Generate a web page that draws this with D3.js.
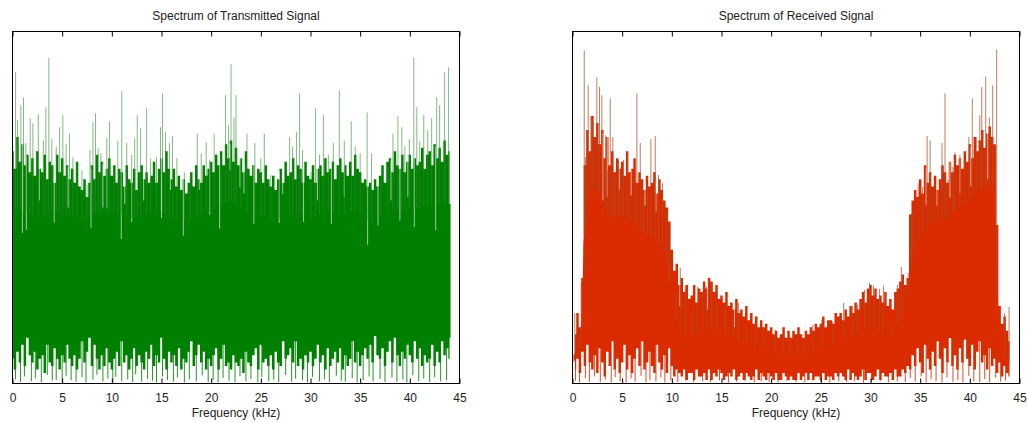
<!DOCTYPE html>
<html><head><meta charset="utf-8">
<script src="https://cdn.jsdelivr.net/npm/d3@7"></script>
<style>
body{margin:0;background:#fff}
text{font-family:"Liberation Sans",Arial,Helvetica,sans-serif;fill:#222}
</style>
</head><body>
<svg id="chart" width="1027" height="423"></svg>
<script>
// ---------- shared ----------
const xTicks = [0,5,10,15,20,25,30,35,40,45];
const xLabel = "Frequency (kHz)";
const titles = ["Spectrum of Transmitted Signal","Spectrum of Received Signal"];

// ---------- Transmitted signal (green) ----------
// solid core of the trace (every 1 kHz)
const txEnvF = [0,1,2,3,4,5,6,7,8,9,10,11,12,13,14,15,16,17,18,19,20,21,22,23,24,25,26,27,28,29,30,31,32,33,34,35,36,37,38,39,40,41,42,43,44,44.1];
const txTop  = [50,49,48,47,49,48,48,46,48,49,48,48,47,48,48,49,47,46,47,48,49,51,52,50,48,48,47,47,48,48,47,48,49,48,49,48,46,47,49,49,50,50,51,51,51,51];
const txBot  = [13,14,13,13,14,13,13,14,13,13,13,14,13,13,13,14,13,13,13,13,13,12,13,12,13,13,13,13,14,13,13,13,13,13,13,13,14,13,14,13,13,13,13,14,13,13];
// local maxima / minima every 0.25 kHz from 0 to 44 kHz
const txPeakStart = 0;
const txPeaks = [66,61,70,63, 68,62,65,60, 64,59,66,61, 60,65,58,63, 62,57,65,60, 64,59,62,58, 61,57,63,56, 55,58,53,57,
  62,58,65,60, 63,59,61,64, 59,62,57,61, 60,56,62,58, 57,61,55,60, 62,58,60,57, 59,63,57,61, 64,60,66,61,
  58,61,56,59, 55,58,54,57, 60,56,62,58, 57,62,59,61, 63,60,65,62, 66,62,68,64, 69,63,67,62, 64,60,66,61,
  59,62,57,61, 60,57,62,58, 56,59,55,58, 61,57,63,59, 60,64,58,62, 61,57,63,59, 58,62,57,61, 62,59,64,60,
  61,63,58,62, 64,60,62,59, 63,59,65,61, 60,57,58,56, 57,55,58,56, 59,62,57,63, 64,60,66,62, 61,65,60,63,
  65,61,64,62, 63,67,61,65, 66,62,68,64, 67,63,69,65, 66];
const txLows = [7,4,9,6, 11,5,13,8, 6,9,4,7, 8,3,11,6, 5,10,7,4, 8,6,11,7, 5,8,4,7, 12,6,9,13, 5,11,7,4, 8,5,10,6,
  4,7,9,5, 12,6,8,4, 7,10,5,8, 6,4,9,7, 11,5,8,6, 13,7,4,9, 6,8,5,10, 4,7,6,9, 12,5,8,11, 6,9,4,7,
  5,8,10,4, 7,11,5,6, 4,8,6,5, 7,3,9,6, 5,8,10,4, 11,6,7,5, 8,4,9,6, 5,12,7,8, 10,6,12,5, 7,4,8,6,
  9,5,7,11, 6,8,4,10, 5,7,9,6, 10,4,8,5, 7,12,6,9, 5,8,10,7, 11,6,14,8, 7,10,5,9, 12,6,13,8, 5,9,7,11,
  8,6,12,7, 10,5,8,6, 7,11,5,9, 6,12,8,10, 7];
// tall isolated spikes
const txSpikeF = [0.31,0.5,0.84,1.11,1.35,1.78,2.05,2.6,3.1,3.36,3.66,3.96,4.4,4.74,5.07,5.4,5.74,6.08,6.48,6.99,7.5,7.8,8.1,8.36,8.63,8.9,9.5,9.77,10.2,10.6,11.0,11.5,12.0,12.3,12.56,12.9,13.5,13.9,14.5,14.9,15.1,15.4,15.8,16.1,16.55,17.3,17.9,18.6,19.0,19.5,19.85,20.3,21.05,21.45,21.75,22.0,22.3,
  22.5,23.0,23.6,24.4,25.0,25.35,26.0,26.85,27.9,28.2,28.6,28.9,29.2,30.05,30.5,30.9,31.3,31.8,32.3,32.9,33.4,34.1,34.5,35.0,35.7,36.15,37.1,37.8,38.3,38.8,39.2,39.5,39.95,40.4,40.7,41.0,41.4,41.8,42.2,42.7,43.0,43.5,43.9];
const txSpikeV = [88.5,74.8,79,81.3,68.3,75.4,73.9,76.5,69,78.5,92.6,69.4,67.3,72.8,76.2,68,71,64.3,62,60.6,56.4,66.3,74.2,76.8,66.8,65.4,69.7,74.5,60.6,69,83,68.3,65,69.7,76.2,72.5,78.2,64,64.3,72.8,82.4,71.4,68.3,70.3,64,60,59.2,71,65.4,68.6,63.5,71,60,81.9,73.4,90.7,75.6,
  81.9,62.6,71,68.3,64,71,59.2,57.8,70,67.3,71.4,82.4,66.3,60,78.2,65,76.2,65,68.3,83.3,69,74.5,67.3,65.4,77,65.4,57.8,61.5,71,75.9,72.8,67.3,69.4,92.6,78.5,68.8,76.2,72,75.4,81.3,79,88.4,89.8];
// pale slits cutting down into the body
const txGapF = [1.0,1.4,2.7,4.2,5.6,7.9,9.1,9.5,10.95,11.3,12.0,13.2,15.0,15.9,17.2,18.8,19.85,20.85,21.9,22.9,23.3,24.3,26.85,27.2,29.3,30.7,32.1,33.4,35.75,36.8,38.1,39.0,39.8,40.45,42.6];
const txGapV = [42.8,43.6,52,45.7,50,44.2,50,49.9,41,51,45.9,52,47,55,42,55,47.9,44,60.6,55.8,54,45.3,45.6,53.8,45.9,52,45.3,53,39.4,44.9,52,46.3,53,44.5,43.6];
const txDipF = [0.3,0.8,1.2,1.9,2.3,2.9,3.5,4.0,4.4,5.0,5.4,5.9,6.4,7.0,7.4,8.1,8.5,9.1,9.6,10.1,10.4,11.0,11.6,12.1,12.4,13.0,13.6,14.1,14.5,15.1,15.6,16.2,16.6,17.3,17.8,18.5,19.1,19.7,20.2,20.7,21.2,21.8,22.4,22.9,23.5,24.0,24.7,25.1,25.8,26.3,26.8,27.5,28.1,28.5,29.2,29.7,30.2,30.9,31.4,31.9,32.6,33.1,33.5,34.2,34.7,35.3,35.9,36.3,37.0,37.5,38.2,38.7,39.3,39.7,40.3,40.9,41.4,42.0,42.5,43.1,43.7];
const txDipV = [1.2,0.4,2.0,0.6,1.5,0.3,2.4,0.8,1.0,0.4,2.2,0.9,0.5,1.8,0.3,1.1,2.5,0.6,1.4,0.3,1.9,0.7,1.2,0.4,2.6,0.5,1.3,0.8,0.3,2.0,1.0,0.5,1.7,0.3,1.2,0.6,2.3,0.4,1.0,0.3,1.6,0.8,0.4,2.1,0.6,1.3,0.3,1.8,0.7,1.1,0.4,2.4,0.5,1.4,0.9,0.3,1.9,0.6,1.2,0.4,2.2,0.8,0.5,1.5,0.3,1.0,2.0,0.6,1.3,0.4,1.7,0.5,1.1,0.3,2.3,0.7,1.4,0.4,1.8,0.6,1.0];

// ---------- Received signal (red) ----------
const rxEnvF = [0.1,0.5,0.9,1.1,1.5,2,3,3.5,4,5,6,7,8,9,9.6,10,10.5,11,12,13,14,15,16,17,18,19,20,21,22,23,24,25,26,27,28,29,30,31,32,33,33.6,34.2,35,36,37,38,39,40,41,42,42.5,42.8,43.2,44];
const rxTop  = [6,8,10,40,50,56,54,48,47,48,46,43,42,38,34,22,17,14,13,15,16,14,13,12,10.5,10,9,8,8,8,9,10,11,12,13,15,16,15,13,18,20,36,42,45,46,48,50,52,55,56,54,10,8,6];
const rxBot  = [8,10,11,12,12,13,12,12,13,12,13,12,13,12,12,10,8,7,6,6,6,6,5.5,6,6,5.5,6,5.5,5,5.5,6,5.5,6,6,5.5,6,6,5.5,6,7,8,12,12,13,12,13,12,13,12,12,12,10,8,6];
// local maxima / minima every 0.25 kHz from 0.25 to 44 kHz
const rxPeakStart = 0.25;
const rxPeaks = [14,20,16, 30,62,72,66, 76,70,74,68, 72,64,70,62, 66,60,64,61, 63,59,66,60, 61,64,57,60, 58,55,59,56,
  57,60,54,58, 55,52,50,46, 38,32,34,28, 30,26,28,24, 25,28,23,27, 26,29,27,30, 29,26,28,24, 25,23,26,22,
  23,21,24,20, 21,19,22,18, 20,17,19,16, 18,16,17,15, 16,14,15,13, 14,16,13,15, 13,15,14,16, 14,13,15,14,
  16,15,17,16, 17,19,16,18, 18,17,20,19, 20,18,21,19, 22,20,23,21, 24,26,23,27, 28,25,27,24, 25,23,26,22,
  24,21,26,27, 29,31,28,30, 48,52,55,53, 58,54,62,57, 60,56,59,55, 58,62,60,57, 63,60,65,62, 64,61,66,63,
  68,64,70,66, 69,72,67,71, 73,70,68,45, 22,17,19,15, 12];
const rxLows = [4,7,3, 9,5,11,6, 4,8,3,10, 6,2,9,5, 12,4,7,3, 6,11,4,8, 3,7,10,5, 12,4,6,9, 5,3,11,6, 4,8,3,10,
  5,2,4,3, 2,4,1,3, 3,1,4,2, 2,3,1,4, 1,3,2,4, 3,1,2,3, 2,4,1,2, 3,1,3,2, 1,2,4,1, 3,2,1,3,
  2,1,3,1, 1,3,2,1, 2,1,1,3, 1,2,3,1, 3,1,2,2, 1,3,1,2, 2,1,3,2, 3,2,1,4, 1,3,2,1, 2,4,1,3,
  3,1,2,4, 1,3,2,2, 3,1,4,2, 2,4,3,5, 4,8,5,10, 6,3,11,7, 4,9,5,12, 7,3,10,6, 13,5,8,4, 10,6,13,7,
  5,11,4,9, 12,6,8,4, 10,5,7,3, 6,2,5,3, 2];
const rxSpikeF = [0.23,0.87,1.18,1.3,1.58,1.85,2.05,2.45,2.72,2.96,3.33,3.56,3.8,4.06,4.33,4.63,4.9,5.14,5.54,5.81,6.15,6.48,6.82,7.15,7.55,7.89,8.33,8.66,9.07,9.5,9.77,10.4,10.85,11.35,12.1,12.6,13.1,13.5,14.0,14.5,15.4,16.2,16.7,17.55,18.4,19.2,20.4,21.25,21.9,
  22.7,23.3,24.2,25.1,26.2,27.3,28.2,28.7,29.4,29.9,30.3,30.9,31.3,32.1,32.7,33.1,33.8,34.1,34.35,34.8,35.25,35.7,36.0,36.4,36.8,37.2,37.5,37.8,38.3,38.5,39.0,39.45,39.9,40.25,40.65,41.0,41.2,41.6,41.96,42.3,42.7,43.5,43.95];
const rxSpikeV = [20,28.6,94.6,64.3,84.7,75.9,74.8,87,84.2,81.9,70.5,60.6,81,70,59.2,63.5,61.5,63.5,65.7,53,58.4,82.4,68.3,53.5,55,69.4,70.3,59.2,56.9,48.4,38.8,25.8,32.9,27.5,21.8,27.5,26,27.5,28.6,22.9,22.4,18.1,22.9,16.1,17.3,16.1,15.3,13,13.3,
  13.3,12.5,16.7,18.1,17.6,22.9,22,22.4,26.6,28.6,27.8,26.9,27.8,17,28,33.1,31.4,48.4,48.5,56.9,55.8,70.3,69,54.4,55,68.3,82.4,57.8,61.5,65.7,65,64,70,81,70,76.2,84.2,87.2,75.6,84.7,94.9,20,21.8];
const rxGapF = [3.06,3.5,4.7,5.9,7.3,8.4,10.8,13.6,16.3,35.6,36.7,38.0,39.0,40.1,41.8];
const rxGapV = [52,53,55,53.4,50.5,48.8,22,21,16,50.8,50.5,52.8,54,56,58];
const rxDipF = [0.3,0.7,1.3,1.7,2.2,2.8,3.3,3.9,4.3,4.8,5.4,5.9,6.3,6.9,7.4,7.8,8.4,8.9,9.3,9.9,10.6,11.4,12.2,13.1,13.9,14.8,15.7,16.5,17.4,18.3,19.0,19.8,20.7,21.6,22.5,23.4,24.2,25.0,25.9,26.8,27.6,28.4,29.3,30.1,31.0,31.8,32.7,33.5,34.0,34.5,35.1,35.6,36.1,36.6,37.2,37.7,38.3,38.8,39.3,39.9,40.4,41.0,41.5,42.0,42.6,43.1,43.6];
const rxDipV = [0.8,0.3,1.5,0.5,2.0,0.4,1.1,0.3,1.8,0.6,0.3,1.4,0.5,2.2,0.3,1.0,0.6,1.7,0.3,0.9,0.4,0.8,0.3,0.6,0.4,0.9,0.3,0.5,0.8,0.3,0.6,0.4,0.3,0.7,0.4,0.3,0.8,0.5,0.3,0.6,0.4,0.7,0.3,0.5,0.8,0.3,0.6,0.4,1.5,0.5,2.0,0.3,1.2,0.6,0.3,1.8,0.5,1.0,0.3,2.1,0.6,0.4,1.3,0.3,1.6,0.5,0.8];

// ---------- drawing ----------
const svg = d3.select("#chart");
const zip = (a,b) => a.map((v,i)=>[v,b[i]]);
const grid = (start, arr, step) => arr.map((v,i)=>[start+i*step, v]);

const panels = [
  {left:12.5, right:459.5, title:titles[0], fill:"#008000", spike:"#2e8b2e", spikeOp:0.6,
   envF:txEnvF, top:txTop, bot:txBot, peaks:grid(txPeakStart,txPeaks,0.25), lows:grid(txPeakStart,txLows,0.25),
   spikes:zip(txSpikeF,txSpikeV), gaps:zip(txGapF,txGapV), dips:zip(txDipF,txDipV)},
  {left:572.5, right:1019.5, title:titles[1], fill:"#da2c00", spike:"#a8502a", spikeOp:0.75,
   envF:rxEnvF, top:rxTop, bot:rxBot, peaks:grid(rxPeakStart,rxPeaks,0.25), lows:grid(rxPeakStart,rxLows,0.25),
   spikes:zip(rxSpikeF,rxSpikeV), gaps:zip(rxGapF,rxGapV), dips:zip(rxDipF,rxDipV)}
];

const yTop = 31.5, yBot = 383.5;
const y = d3.scaleLinear().domain([0,100]).range([yBot, yTop]);

panels.forEach((p,i) => {
  const x = d3.scaleLinear().domain([0,45]).range([p.left, p.right]);
  const topAt = d3.scaleLinear().domain(p.envF).range(p.top).clamp(true);
  const botAt = d3.scaleLinear().domain(p.envF).range(p.bot).clamp(true);
  const peakAt = d3.scaleLinear().domain(p.peaks.map(d=>d[0])).range(p.peaks.map(d=>d[1])).clamp(true);
  const g = svg.append("g");
  const clipId = "clip"+i;
  svg.append("clipPath").attr("id",clipId).append("rect")
    .attr("x",p.left).attr("y",yTop).attr("width",p.right-p.left).attr("height",yBot-yTop);
  const plot = g.append("g").attr("clip-path",`url(#${clipId})`);

  // body = one seamless path: jagged top from the local maxima, jagged bottom from the local minima
  const body = p.peaks.map((d,k)=>({f:d[0], t:Math.max(d[1], topAt(d[0])), b:Math.min(p.lows[k][1], botAt(d[0]))}));
  const lo = p.envF[0], hi = p.envF[p.envF.length-1];
  plot.append("path").datum(body)
    .attr("d", d3.area().curve(d3.curveStep).x(d=>x(d.f)).y0(d=>y(d.b)).y1(d=>y(d.t)))
    .attr("fill", p.fill);
  // keep the smooth core under the steps (covers the edges of the range)
  const env = p.envF.map((f,k)=>({f, t:p.top[k], b:p.bot[k]}));
  plot.append("path").datum(env)
    .attr("d", d3.area().x(d=>x(d.f)).y0(d=>y(d.b)).y1(d=>y(d.t)))
    .attr("fill", p.fill);

  // pale slits cutting down into the body
  plot.selectAll(".gap").data(p.gaps).enter().append("line")
    .attr("x1",d=>x(d[0])).attr("x2",d=>x(d[0]))
    .attr("y1",d=>y(peakAt(d[0])+1)).attr("y2",d=>y(d[1]))
    .attr("stroke","#fff").attr("stroke-opacity",0.6).attr("stroke-width",1);

  // dips reaching down toward the axis
  plot.selectAll(".dip").data(p.dips).enter().append("line")
    .attr("x1",d=>x(d[0])).attr("x2",d=>x(d[0]))
    .attr("y1",d=>y(botAt(d[0]))).attr("y2",d=>y(d[1]))
    .attr("stroke",p.fill).attr("stroke-opacity",0.85).attr("stroke-width",1);

  // tall spikes
  plot.selectAll(".spike").data(p.spikes.filter(d=>d[1]>topAt(d[0]))).enter().append("line")
    .attr("x1",d=>x(d[0])).attr("x2",d=>x(d[0]))
    .attr("y1",d=>y(topAt(d[0]))).attr("y2",d=>y(d[1]))
    .attr("stroke",p.spike).attr("stroke-opacity",p.spikeOp).attr("stroke-width",1);

  // frame
  g.append("rect").attr("x",p.left).attr("y",yTop).attr("width",p.right-p.left).attr("height",yBot-yTop)
    .attr("fill","none").attr("stroke","#000").attr("stroke-width",1);

  // bottom axis (ticks inward) and top ticks
  const axB = g.append("g").attr("transform",`translate(0,${yBot})`)
    .call(d3.axisBottom(x).tickValues(xTicks).tickSize(-5).tickPadding(10).tickFormat(d3.format("d")));
  axB.select(".domain").remove();
  axB.selectAll("line").attr("stroke","#000");
  axB.selectAll("text").attr("font-size","12px").attr("fill","#222");
  const axT = g.append("g").attr("transform",`translate(0,${yTop})`)
    .call(d3.axisTop(x).tickValues(xTicks).tickSize(-5).tickFormat(""));
  axT.select(".domain").remove();
  axT.selectAll("line").attr("stroke","#000");

  // title & x label
  const cx = (p.left+p.right)/2;
  g.append("text").attr("x",cx).attr("y",20).attr("text-anchor","middle")
    .attr("font-size","12px").text(p.title);
  g.append("text").attr("x",cx).attr("y",417).attr("text-anchor","middle")
    .attr("font-size","12px").text(xLabel);
});
</script>
</body></html>
